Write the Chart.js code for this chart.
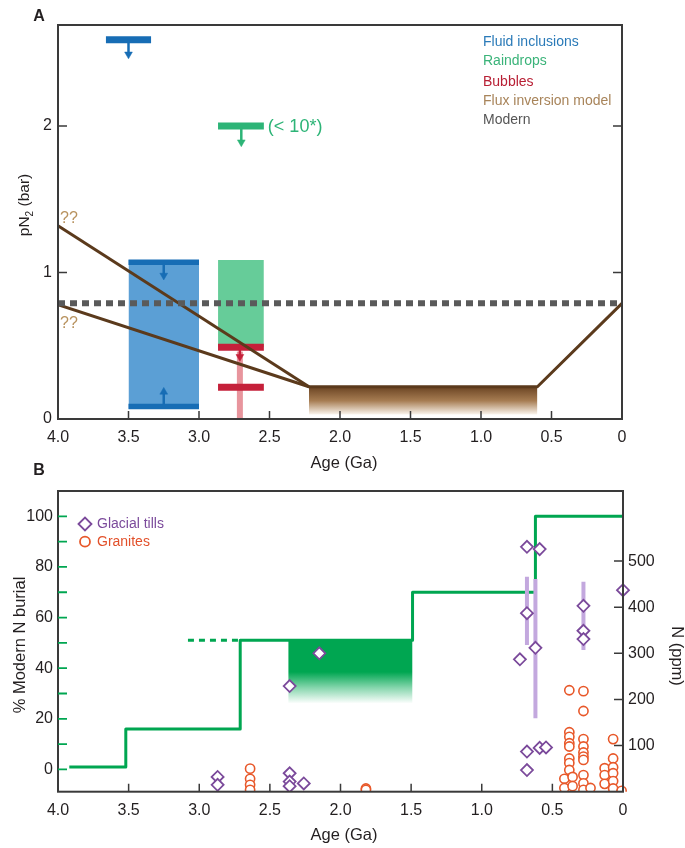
<!DOCTYPE html>
<html><head><meta charset="utf-8">
<script src="https://cdn.jsdelivr.net/npm/chart.js@4.4.0/dist/chart.umd.min.js"></script>
<style>
html,body{margin:0;padding:0;background:#fff;}
#wrap{position:relative;width:685px;height:848px;overflow:hidden;}
#ca{position:absolute;left:0;top:0;}
#cb{position:absolute;left:0;top:455px;}
</style></head><body>
<div id="wrap">
<canvas id="ca" width="685" height="480"></canvas>
<canvas id="cb" width="685" height="393"></canvas>
</div>
<script>
// ---------- Panel A data ----------
const ageTicks = [4.0, 3.5, 3.0, 2.5, 2.0, 1.5, 1.0, 0.5, 0];
const pTicks = [0, 1, 2];
const fluidAge = [3.5, 3.0];            // fluid inclusion range (Ga)
const fluidP = [0.07, 1.085];           // bottom, top (bar)
const fluidBarP = [0.085, 1.07];        // dark limit bars
const fluidArrowAge = [3.25, 3.25];
const fluidArrowFrom = [1.06, 0.10];
const fluidArrowTo = [0.98, 0.185];
const fluidLimitAge = [3.66, 3.34];
const fluidLimitP = [2.59, 2.59];
const fluidLimitArrow = [3.50, 2.59, 2.49];
const rainAge = [2.865, 2.54];
const rainP = [0.49, 1.085];
const rainLimitAge = [2.865, 2.54];
const rainLimitP = [2.0, 2.0];
const rainLimitArrow = [2.70, 2.0, 1.89];
const bubbleAge = [2.865, 2.54];
const bubbleP = [0.49, 0.216];
const bubbleSpanAge = [2.71, 2.71];
const bubbleSpanP = [0.0, 0.46];
const bubbleArrow = [2.71, 0.49, 0.425];
const fluxHighAge = [4.0, 2.22];
const fluxHighP = [1.32, 0.22];
const fluxLowAge = [4.0, 2.22, 0.6, 0.0];
const fluxLowP = [0.78, 0.22, 0.22, 0.79];
const fluxBandAge = [2.22, 0.6];
const fluxBandP = [0.22, 0.03];
const modernAge = [4.0, 0.0];
const modernP = [0.79, 0.79];

// ---------- Panel B data ----------
const burialTicks = [0, 10, 20, 30, 40, 50, 60, 70, 80, 90, 100];
const nTicks = [100, 200, 300, 400, 500];
const burialStepAge = [3.92, 3.52, 3.52, 2.71, 2.71, 1.49, 1.49, 0.62, 0.62, 0.0];
const burialStepPct = [1, 1, 16, 16, 51, 51, 70, 70, 100, 100];
const burialDashAge = [3.08, 2.71];
const burialDashPct = [51, 51];
const burialBandAge = [2.37, 1.49];
const burialBandPct = [51, 26];
const tillAge = [2.87, 2.87, 2.36, 2.36, 2.36, 2.26, 2.36, 2.15, 0.68, 0.59, 0.68, 0.73, 0.62, 0.68, 0.68, 0.59, 0.545, 0.28, 0.28, 0.28, 0.0];
const tillN = [32, 15, 40, 22, 12, 18, 229, 300, 531, 526, 387, 287, 312, 87, 47, 95, 96, 403, 349, 331, 437];
const tillBarAge = [0.68, 0.62, 0.28];
const tillBarLow = [318, 159, 307];
const tillBarHigh = [466, 461, 455];
const graniteAge = [2.64, 2.64, 2.64, 2.64, 1.82, 1.82,
  0.38, 0.38, 0.38, 0.38, 0.38, 0.38, 0.38, 0.38, 0.38, 0.38, 0.38,
  0.415, 0.415, 0.357, 0.357,
  0.28, 0.28, 0.28, 0.28, 0.28, 0.28, 0.28, 0.28, 0.28, 0.28,
  0.23, 0.13, 0.13, 0.13,
  0.07, 0.07, 0.07, 0.07, 0.07, 0.07, 0.01];
const graniteN = [50, 28, 15, 4, 7, 4,
  220, 129, 119, 105, 98, 72, 62, 47, 28, 14, 5,
  28, 8, 32, 12,
  218, 175, 114, 98, 85, 76, 69, 36, 18, 4,
  8, 51, 36, 17,
  114, 72, 53, 40, 23, 7, 2];

// ---------- helpers ----------
const FONT = "'Liberation Sans', Arial, sans-serif";
const TXT = '#231f20';
Chart.defaults.font.family = FONT;
Chart.defaults.color = TXT;
const pts = (xs, ys) => xs.map((x, i) => ({x: x, y: ys[i]}));
function vGrad(chart, sid, v0, v1, stops) {
  const {ctx, chartArea, scales} = chart;
  if (!chartArea || !scales[sid]) return stops[0][1];
  const s = scales[sid];
  const g = ctx.createLinearGradient(0, s.getPixelForValue(v0), 0, s.getPixelForValue(v1));
  stops.forEach(([o, c]) => g.addColorStop(o, c));
  return g;
}
function seg(data, color, width, order, extra) {
  return Object.assign({data: data, showLine: true, borderColor: color, borderWidth: width,
    pointRadius: 0, order: order, tension: 0, borderCapStyle: 'butt'}, extra || {});
}
function arrow(spec, color, order, up) {
  return seg(pts([spec[0], spec[0]], [spec[1], spec[2]]), color, 2.5, order, {
    pointRadius: [0, 4.5], pointStyle: 'triangle', pointRotation: up ? 0 : 180,
    pointBackgroundColor: color, pointBorderColor: color, pointBorderWidth: 0.5});
}
function box(xs, lo, hi, color, order) {
  return seg(pts(xs, [hi, hi]), 'rgba(0,0,0,0)', 0, order,
    {fill: {value: lo}, backgroundColor: color});
}
const tickLabel = v => (v === 0 ? '0' : v.toFixed(1));
const noGrid = {display: false, drawTicks: false, tickLength: 0};
const baseOpts = {responsive: false, animation: false, events: [],
  plugins: {legend: {display: false}, tooltip: {enabled: false}}};

// ---------- Panel A ----------
const BLUE = '#5b9fd5', DBLUE = '#176db5', GREEN = '#66cc99', DGREEN = '#2db477',
      RED = '#c5203a', LRED = '#e8959d', BROWN = '#5b3a1c';
const dsA = [
  seg(pts(modernAge, modernP), '#5a5a5a', 6, 0, {borderDash: [7, 5]}),
  seg(pts(fluxHighAge, fluxHighP), BROWN, 3, 1),
  seg(pts(fluxLowAge, fluxLowP), BROWN, 3, 1, {borderJoinStyle: 'round'}),
  arrow(bubbleArrow, RED, 2, false),
  arrow([fluidArrowAge[0], fluidArrowFrom[0], fluidArrowTo[0]], DBLUE, 2, false),
  arrow([fluidArrowAge[1], fluidArrowFrom[1], fluidArrowTo[1]], DBLUE, 2, true),
  arrow(fluidLimitArrow, DBLUE, 2, false),
  arrow(rainLimitArrow, DGREEN, 2, false),
  seg(pts(fluidAge, [fluidBarP[1], fluidBarP[1]]), DBLUE, 5.5, 3),
  seg(pts(fluidAge, [fluidBarP[0], fluidBarP[0]]), DBLUE, 5.5, 3),
  seg(pts(fluidLimitAge, fluidLimitP), DBLUE, 7, 3),
  seg(pts(rainLimitAge, rainLimitP), DGREEN, 7, 3),
  seg(pts(bubbleAge, [bubbleP[0], bubbleP[0]]), RED, 7, 3),
  seg(pts(bubbleAge, [bubbleP[1], bubbleP[1]]), RED, 7, 3),
  seg(pts(bubbleSpanAge, bubbleSpanP), LRED, 6, 4),
  box(fluidAge, fluidP[0], fluidP[1], BLUE, 5),
  box(rainAge, rainP[0], rainP[1], GREEN, 5),
  box(fluxBandAge, fluxBandP[1], fluxBandP[0],
      c => vGrad(c.chart, 'y', fluxBandP[0], fluxBandP[1],
        [[0, '#6b4423'], [0.5, '#a67c52'], [1, '#fbf6ef']]), 5)
];

const decoA = {
  id: 'decoA',
  afterDatasetsDraw(chart) {
    const {ctx, chartArea: a, scales: {x, y}} = chart;
    ctx.save();
    ctx.strokeStyle = '#3a3a3a'; ctx.lineWidth = 2;
    ctx.strokeRect(a.left, a.top, a.right - a.left, a.bottom - a.top);
    ctx.lineWidth = 1.5; ctx.beginPath();
    x.ticks.forEach(t => { if (t.value > 0 && t.value < 4) { const p = x.getPixelForValue(t.value);
      ctx.moveTo(p, a.bottom); ctx.lineTo(p, a.bottom - 8); } });
    y.ticks.forEach(t => { if (t.value > 0) { const p = y.getPixelForValue(t.value);
      ctx.moveTo(a.left, p); ctx.lineTo(a.left + 9, p); ctx.moveTo(a.right, p); ctx.lineTo(a.right - 9, p); } });
    ctx.stroke();
    // legend
    ctx.textBaseline = 'middle'; ctx.textAlign = 'left';
    ctx.font = '14px ' + FONT;
    [['Fluid inclusions', '#2a7ab8', 42], ['Raindrops', '#3ab379', 61], ['Bubbles', '#b82035', 82],
     ['Flux inversion model', '#a8845a', 101], ['Modern', '#555555', 120]].forEach(([t, c, yy]) => {
      ctx.fillStyle = c; ctx.fillText(t, 483, yy); });
    // annotations
    ctx.font = '16px ' + FONT; ctx.fillStyle = '#b8925e';
    ctx.fillText('??', x.getPixelForValue(4.0) + 2, y.getPixelForValue(1.37));
    ctx.fillText('??', x.getPixelForValue(4.0) + 2, y.getPixelForValue(0.65));
    ctx.font = '18px ' + FONT; ctx.fillStyle = DGREEN;
    ctx.fillText('(< 10*)', x.getPixelForValue(rainLimitAge[1]) + 4, y.getPixelForValue(rainLimitP[1]) + 1);
    // panel label
    ctx.fillStyle = TXT; ctx.font = 'bold 16px ' + FONT; ctx.textAlign = 'center';
    ctx.fillText('A', 39, 17);
    // x title
    ctx.font = '16.5px ' + FONT;
    ctx.fillText('Age (Ga)', 344, 463);
    // y title with subscript
    ctx.save(); ctx.translate(25, 205); ctx.rotate(-Math.PI / 2);
    ctx.textAlign = 'left';
    ctx.font = '15.5px ' + FONT; const w1 = ctx.measureText('pN').width, w3 = ctx.measureText(' (bar)').width;
    ctx.font = '10px ' + FONT; const w2 = ctx.measureText('2').width;
    let sx = -(w1 + w2 + w3) / 2;
    ctx.font = '15.5px ' + FONT; ctx.fillText('pN', sx, 0);
    ctx.font = '10px ' + FONT; ctx.fillText('2', sx + w1, 5);
    ctx.font = '15.5px ' + FONT; ctx.fillText(' (bar)', sx + w1 + w2, 0);
    ctx.restore();
    ctx.restore();
  }
};

new Chart(document.getElementById('ca'), {
  type: 'scatter',
  data: {datasets: dsA},
  options: Object.assign({}, baseOpts, {
    layout: {padding: {top: 25, right: 63, left: 0, bottom: 0}},
    scales: {
      x: {type: 'linear', min: 0, max: 4, reverse: true,
        afterBuildTicks: s => { s.ticks = ageTicks.map(v => ({value: v})); },
        afterFit: s => { s.height = 61; },
        grid: noGrid, border: {display: false},
        ticks: {callback: tickLabel, padding: 9, maxRotation: 0, autoSkip: false, font: {size: 16}, color: TXT}},
      y: {type: 'linear', min: 0, max: 2.69,
        afterBuildTicks: s => { s.ticks = pTicks.map(v => ({value: v})); },
        afterFit: s => { s.width = 58; },
        grid: noGrid, border: {display: false},
        ticks: {callback: v => String(v), padding: 6, font: {size: 16}, color: TXT}}
    }
  }),
  plugins: [decoA]
});

// ---------- Panel B ----------
const LG = '#00a651', PURPLE = '#7b4a9b', ORANGE = '#e8582a';
const dsB = [
  {data: pts(tillAge, tillN), yAxisID: 'y2', pointStyle: 'rectRot', pointRadius: 6,
   pointBackgroundColor: '#ffffff', pointBorderColor: PURPLE, pointBorderWidth: 1.8, order: 0,
   clip: {left: 6, right: 8, top: 6, bottom: 0}},
  {data: pts(graniteAge, graniteN), yAxisID: 'y2', pointStyle: 'circle', pointRadius: 4.6,
   pointBackgroundColor: '#ffffff', pointBorderColor: ORANGE, pointBorderWidth: 1.6, order: 1,
   clip: {left: 6, right: 8, top: 6, bottom: 0}},
  ...tillBarAge.map((a, i) => seg(pts([a, a], [tillBarLow[i], tillBarHigh[i]]), '#c3a8de', 4, 2, {yAxisID: 'y2'})),
  seg(pts(burialStepAge, burialStepPct), LG, 3, 3, {yAxisID: 'y', borderJoinStyle: 'round'}),
  seg(pts(burialDashAge, burialDashPct), LG, 3, 3, {yAxisID: 'y', borderDash: [6, 5]}),
  seg(pts(burialBandAge, [burialBandPct[0], burialBandPct[0]]), 'rgba(0,0,0,0)', 0, 4, {yAxisID: 'y',
    fill: {value: burialBandPct[1]},
    backgroundColor: c => vGrad(c.chart, 'y', burialBandPct[0], burialBandPct[1],
      [[0, LG], [0.5, LG], [0.75, '#86d6ad'], [1, '#ffffff']])})
];

const decoB = {
  id: 'decoB',
  afterDatasetsDraw(chart) {
    const {ctx, chartArea: a, scales: {x, y, y2}} = chart;
    ctx.save();
    ctx.strokeStyle = '#3a3a3a'; ctx.lineWidth = 2;
    ctx.strokeRect(a.left, a.top, a.right - a.left, a.bottom - a.top);
    ctx.lineWidth = 1.5; ctx.beginPath();
    x.ticks.forEach(t => { if (t.value > 0 && t.value < 4) { const p = x.getPixelForValue(t.value);
      ctx.moveTo(p, a.bottom); ctx.lineTo(p, a.bottom - 8); } });
    y2.ticks.forEach(t => { const p = y2.getPixelForValue(t.value);
      ctx.moveTo(a.right, p); ctx.lineTo(a.right - 9, p); });
    ctx.stroke();
    ctx.strokeStyle = LG; ctx.lineWidth = 1.8; ctx.beginPath();
    y.ticks.forEach(t => { const p = y.getPixelForValue(t.value);
      ctx.moveTo(a.left, p); ctx.lineTo(a.left + 9, p); });
    ctx.stroke();
    // legend
    ctx.lineWidth = 1.8; ctx.strokeStyle = PURPLE; ctx.fillStyle = '#fff';
    const dx = 85, dy = 69, r = 6.5;
    ctx.beginPath(); ctx.moveTo(dx - r, dy); ctx.lineTo(dx, dy - r); ctx.lineTo(dx + r, dy); ctx.lineTo(dx, dy + r); ctx.closePath();
    ctx.fill(); ctx.stroke();
    ctx.strokeStyle = ORANGE; ctx.beginPath(); ctx.arc(85, 86.7, 5, 0, Math.PI * 2); ctx.fill(); ctx.stroke();
    ctx.textBaseline = 'middle'; ctx.textAlign = 'left'; ctx.font = '14px ' + FONT;
    ctx.fillStyle = PURPLE; ctx.fillText('Glacial tills', 97, 69);
    ctx.fillStyle = '#e2502a'; ctx.fillText('Granites', 97, 87);
    // labels
    ctx.fillStyle = TXT; ctx.textAlign = 'center';
    ctx.font = 'bold 16px ' + FONT; ctx.fillText('B', 39, 16);
    ctx.font = '16.5px ' + FONT; ctx.fillText('Age (Ga)', 344, 380);
    ctx.save(); ctx.translate(20, 190); ctx.rotate(-Math.PI / 2);
    ctx.fillText('% Modern N burial', 0, 0); ctx.restore();
    ctx.save(); ctx.translate(677, 201); ctx.rotate(Math.PI / 2);
    ctx.fillText('N (ppm)', 0, 0); ctx.restore();
    ctx.restore();
  }
};

new Chart(document.getElementById('cb'), {
  type: 'scatter',
  data: {datasets: dsB},
  options: Object.assign({}, baseOpts, {
    layout: {padding: {top: 36, right: 0, left: 0, bottom: 0}},
    scales: {
      x: {type: 'linear', min: 0, max: 4, reverse: true,
        afterBuildTicks: s => { s.ticks = ageTicks.map(v => ({value: v})); },
        afterFit: s => { s.height = 56.3; },
        grid: noGrid, border: {display: false},
        ticks: {callback: tickLabel, padding: 9, maxRotation: 0, autoSkip: false, font: {size: 16}, color: TXT}},
      y: {type: 'linear', position: 'left', min: -8.8, max: 110,
        afterBuildTicks: s => { s.ticks = burialTicks.map(v => ({value: v})); },
        afterFit: s => { s.width = 58; },
        grid: noGrid, border: {display: false},
        ticks: {callback: v => (v % 20 === 0 ? String(v) : ''), padding: 5, autoSkip: false, font: {size: 16}, color: TXT}},
      y2: {type: 'linear', position: 'right', min: 0, max: 652,
        afterBuildTicks: s => { s.ticks = nTicks.map(v => ({value: v})); },
        afterFit: s => { s.width = 62; },
        grid: noGrid, border: {display: false},
        ticks: {callback: v => String(v), padding: 5, autoSkip: false, font: {size: 16}, color: TXT}}
    }
  }),
  plugins: [decoB]
});
</script>
</body></html>
